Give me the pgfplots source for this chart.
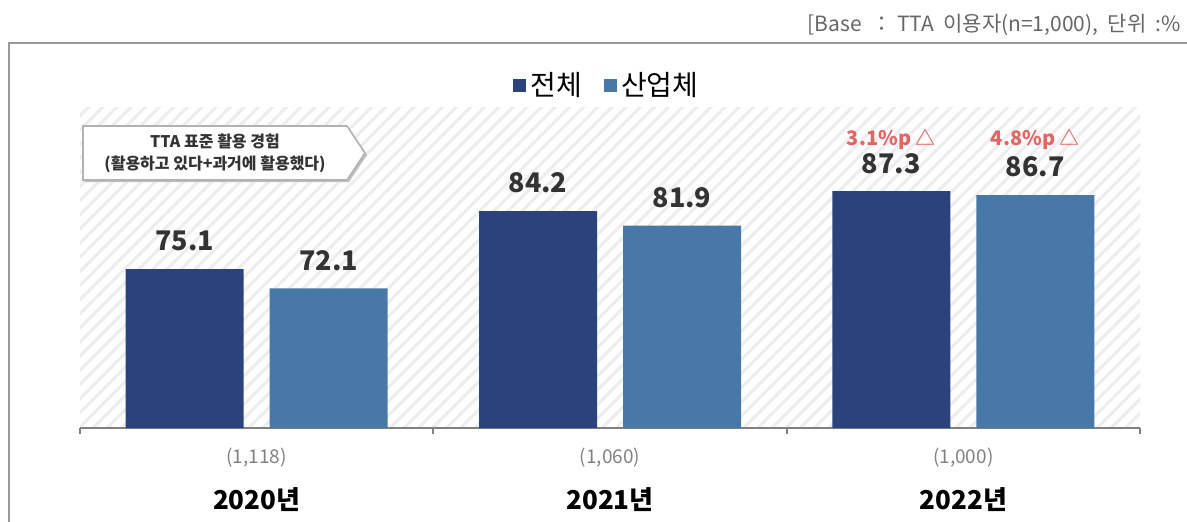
\documentclass[border=0pt]{standalone}
\usepackage{fontspec}
\setmainfont{Noto Sans CJK KR}
\usepackage{pgfplots}
\pgfplotsset{compat=1.18}
\usetikzlibrary{patterns.meta}
\definecolor{cDark}{HTML}{2B427C}
\definecolor{cLight}{HTML}{4878A8}
\definecolor{cRed}{HTML}{E06666}
\definecolor{cTxt}{HTML}{333333}
\begin{document}
\begin{tikzpicture}
\path[use as bounding box] (0,0) rectangle (593.5pt,-260.5pt);
\draw[black!40, line width=0.9pt] (4.5pt,-262pt) -- (4.5pt,-21.5pt) -- (595pt,-21.5pt);
\node[anchor=east, text=black!60, font=\fontsize{10.5}{12}\selectfont] at (594pt,-12.5pt) {[Base ~：~TTA~ 이용자(n=1,000), ~단위 ~:\%};
\begin{axis}[
  at={(40pt,-214pt)}, anchor=south west,
  scale only axis, width=530pt, height=160.5pt,
  xmin=-0.5, xmax=2.5, ymin=50.2, ymax=100.5,
  hide y axis,
  axis x line*=bottom,
  x axis line style={black!50, line width=0.9pt},
  xtick={-0.5,0.5,1.5,2.5}, xticklabels={},
  tick align=outside, major tick length=3pt,
  x tick style={black!50, line width=0.9pt},
  extra x ticks={0,1,2},
  extra x tick labels={{\color{black!50}\fontsize{9.5}{11}\selectfont(1,118)\\[9pt]\bfseries\fontsize{13}{15}\selectfont 2020년},{\color{black!50}\fontsize{9.5}{11}\selectfont(1,060)\\[9pt]\bfseries\fontsize{13}{15}\selectfont 2021년},{\color{black!50}\fontsize{9.5}{11}\selectfont(1,000)\\[9pt]\bfseries\fontsize{13}{15}\selectfont 2022년}},
  extra x tick style={major tick length=0pt, xticklabel style={align=center, anchor=north, yshift=-6.5pt}},
  /pgf/number format/assume math mode=true,
  axis background/.style={pattern={Lines[angle=45,distance=5pt,line width=1.6pt]}, pattern color=black!7},
  ybar, bar width=59pt,
  nodes near coords,
  nodes near coords style={font=\bfseries\fontsize{13.5}{16}\selectfont, text=cTxt, anchor=center, yshift=14pt},
  legend style={at={(0.498,1.0685)}, anchor=center, draw=none, fill=none, legend columns=2,
    font=\fontsize{14}{16}\selectfont,
    /tikz/every even column/.append style={column sep=9pt}},
  legend image code/.code={\fill[#1] (0pt,-3.4pt) rectangle (6.5pt,3.1pt);},
]
\addplot[fill=cDark, draw=none, bar shift=-36pt] coordinates {(0,75.1) (1,84.2) (2,87.3)};
\addplot[fill=cLight, draw=none, bar shift=36pt] coordinates {(0,72.1) (1,81.9) (2,86.7)};
\legend{전체,산업체}
\node[text=cRed, font=\bfseries\fontsize{10}{12}\selectfont] at ([xshift=-36pt,yshift=26pt]axis cs:2,87.3) {3.1\%p △};
\node[text=cRed, font=\bfseries\fontsize{10}{12}\selectfont] at ([xshift=36pt,yshift=28pt]axis cs:2,86.7) {4.8\%p △};
\end{axis}
\fill[black!25] (42.5pt,-64pt) -- (174.5pt,-64pt) -- (183.5pt,-77.5pt) -- (174.5pt,-91pt) -- (42.5pt,-91pt) -- cycle;
\filldraw[fill=white, draw=black!30, line width=0.8pt] (41.5pt,-63pt) -- (173.5pt,-63pt) -- (182.5pt,-76.5pt) -- (173.5pt,-90pt) -- (41.5pt,-90pt) -- cycle;
\node[font=\bfseries\fontsize{8}{9}\selectfont, text=cTxt] at (107.5pt,-70.5pt) {TTA 표준 활용 경험};
\node[font=\bfseries\fontsize{8}{9}\selectfont, text=cTxt] at (107.5pt,-82pt) {(활용하고 있다+과거에 활용했다)};
\end{tikzpicture}
\end{document}
